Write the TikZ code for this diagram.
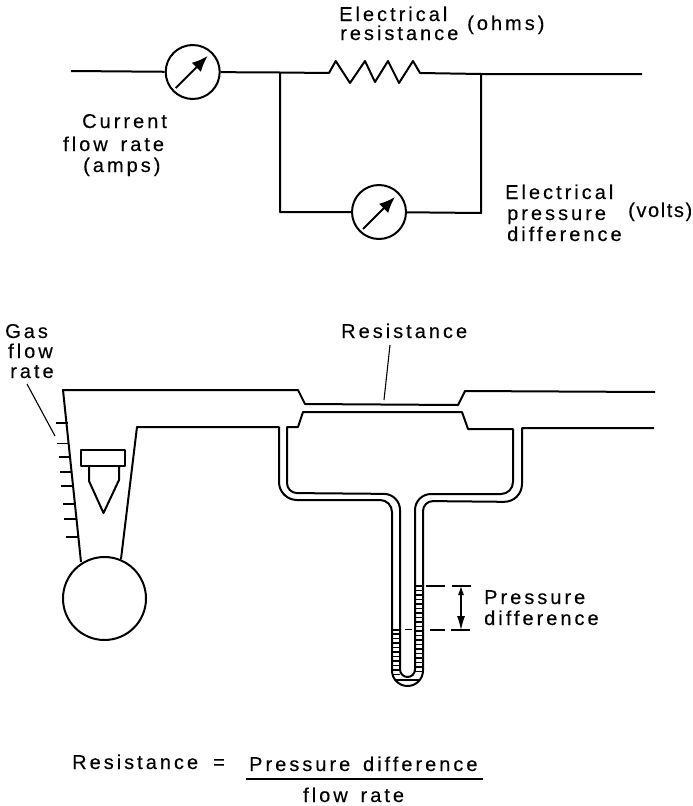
\documentclass[tikz,border=0pt]{standalone}
\usepackage{fontspec}
\setmainfont{Liberation Sans}
\newfontface\spacedfont[LetterSpace=15,WordSpace=1.5,FakeBold=0.3]{Liberation Sans}
\newfontface\tightfont[LetterSpace=8,FakeBold=0.3]{Liberation Sans}
\usetikzlibrary{arrows.meta}
\tikzset{
  wire/.style={line width=2pt,line join=round},
  thin wire/.style={line width=1.1pt},
  meter/.style={draw,circle,line width=2pt,minimum size=54pt,inner sep=0pt},
  needle/.style={line width=2pt,-{Latex[length=16pt,width=13pt]}},
  caption/.style={inner sep=0pt,align=left,anchor=base west,
    font=\fontsize{20}{21}\spacedfont},
}

\begin{document}
\begin{tikzpicture}[x=1pt,y=-1pt]
  \useasboundingbox (0,0) rectangle (693,806);

  % circuit: two meters, resistor and the shunt branch
  \node[meter] (ammeter) at (192.7,72) {};
  \node[meter] (voltmeter) at (379,212) {};
  \coordinate (lineIn) at (71,71);
  \coordinate (lineOut) at (642,74);
  \coordinate (jointL) at (280,72.5);
  \coordinate (jointR) at (481,74);
  \coordinate (cornerL) at (280,212);
  \coordinate (cornerR) at (481,213);
  \coordinate (resIn) at (329,73);
  \coordinate (resOut) at (420,73);
  \draw[wire] (lineIn) -- (ammeter) -- (jointL) -- (resIn)
    -- (335.7,61) -- (350,83) -- (365,61) -- (375,82) -- (388,61) -- (399,83) -- (413,61)
    -- (resOut) -- (jointR) -- (lineOut);
  \draw[wire] (jointL) -- (cornerL) -- (voltmeter) -- (cornerR) -- (jointR);
  \draw[needle] ([shift={(-17,16)}]ammeter.center) -- ([shift={(15,-16)}]ammeter.center);
  \draw[needle] ([shift={(-16,17)}]voltmeter.center) -- ([shift={(16,-15)}]voltmeter.center);

  \node[caption] (elecRes) at (339,40) {Electrical\\[-2pt]\hspace*{1pt}resistance};
  \node[caption] (ohms) at (467,30) {(ohms)};
  \node[caption] (current) at (63,172) {\hspace*{19pt}Current\\[2pt]flow rate\\\hspace*{20pt}(amps)};
  \node[caption] (elecPress) at (505,241) {Electrical\\\hspace*{2pt}pressure\\\hspace*{2pt}difference};
  \node[caption,font=\fontsize{20}{21}\tightfont] (volts) at (628,217) {(volts)};

  % flow meter: tapered tube, scale, float and bulb
  \node[meter,minimum size=83pt] (bulb) at (104.5,598.5) {};
  \draw[wire] (81,562) -- (63,390) -- (298,390) -- (305,404) -- (458,405) -- (465,391) -- (655,392);
  \draw[wire] (121,559) -- (137,427) -- (279,427)
    [rounded corners=18pt] -- (279,500)
    [rounded corners=12pt] -- (392,500)
    [rounded corners=15.5pt] -- (392,686) -- (423,686)
    [rounded corners=10pt] -- (423,501)
    [rounded corners=18pt] -- (522,502)
    [sharp corners] -- (522,428) -- (654,428);
  % inner wall of the manometer, closed round the constriction
  \draw[wire] (287,427)
    [rounded corners=10pt] -- (287,493)
    [rounded corners=16pt] -- (400,494)
    [rounded corners=7.5pt] -- (400,677) -- (415,677)
    [rounded corners=16pt] -- (415,494)
    [rounded corners=12pt] -- (513,494)
    [sharp corners] -- (513,429) -- (468,429) -- (462,412) -- (303,412) -- (298,427) -- cycle;

  \foreach \ya/\xa in {423/56,443.7/57,457/59,472/60,486/61,504/63,519/64,537/66}
    \draw[thin wire] (\xa,\ya) -- (\xa+12,\ya);

  \draw[wire] (81,450) rectangle (125,466);
  \draw[wire] (89,466) -- (89,481) -- (103.5,513) -- (119,480) -- (119,466);

  % liquid in the two limbs
  \draw[wire] (392,629.5) -- (400,629.5);
  \draw[wire] (415,586) -- (423,586);
  \foreach \yb in {634,638.5,...,675}
    \draw[thin wire] (392,\yb) -- (400,\yb);
  \foreach \yb in {590.5,595,...,675}
    \draw[thin wire] (415,\yb) -- (423,\yb);
  \draw[thin wire] (395,680) -- (420,680);

  % level marks and the height between them
  \draw[thin wire] (426,586) -- (445,586) (452,586) -- (471,586);
  \draw[thin wire] (405,629.5) -- (412,629.5) (430,630) -- (445,630) (451,630) -- (470,630);
  \coordinate (levelTop) at (461,586);
  \coordinate (levelLow) at (461,630);
  \draw[thin wire,{Latex[length=9pt,width=6pt]}-{Latex[length=14pt,width=8pt]}] (levelTop) -- (levelLow);

  \node[caption] (gasRate) at (5,378) {Gas\\[-1pt]\hspace*{3pt}flow\\[-1pt]\hspace*{5pt}rate};
  \node[caption] (resLabel) at (341,338) {Resistance};
  \node[caption] (pressDiff) at (484,625) {Pressure\\difference};
  \coordinate (gasTip) at (55,436);
  \coordinate (resTip) at (384,400);
  \draw[thin wire] (27,384) -- (gasTip);
  \draw[thin wire] (390,345) -- (resTip);

  % the formula
  \node[caption] (formulaL) at (72,769) {Resistance};
  \node[caption] (formulaEq) at (213,769) {=};
  \node[caption] (formulaTop) at (249,771) {Pressure difference};
  \node[caption] (formulaLow) at (303,802) {flow rate};
  \draw[wire] (246,779) -- (483,779);
\end{tikzpicture}
\end{document}
